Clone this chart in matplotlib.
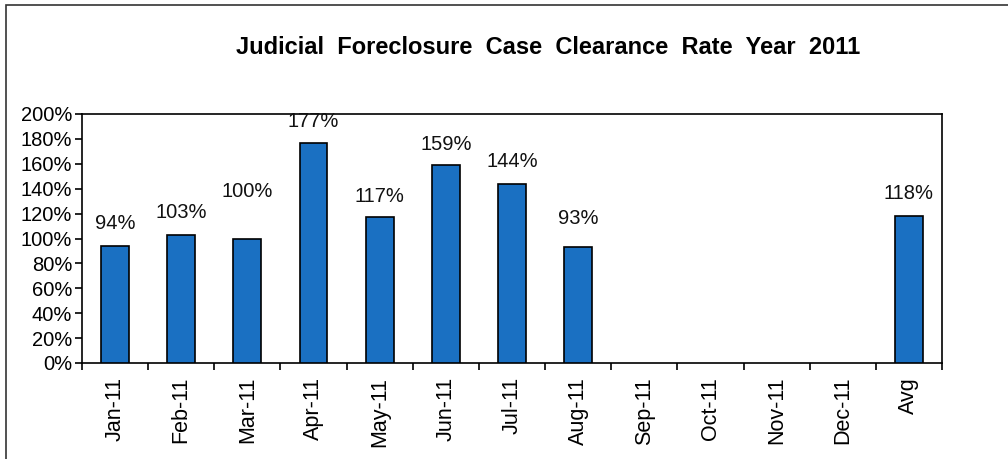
import matplotlib
matplotlib.use("Agg")
import matplotlib.pyplot as plt
from matplotlib.patches import Rectangle
from matplotlib.ticker import FuncFormatter, FixedLocator
import numpy as np

plt.rcParams['font.family'] = ['Liberation Sans', 'DejaVu Sans']

categories = ['Jan-11', 'Feb-11', 'Mar-11', 'Apr-11', 'May-11', 'Jun-11',
              'Jul-11', 'Aug-11', 'Sep-11', 'Oct-11', 'Nov-11', 'Dec-11', 'Avg']
rates = [94, 103, 100, 177, 117, 159, 144, 93, None, None, None, None, 118]
title = 'Judicial  Foreclosure  Case  Clearance  Rate  Year  2011'
y_ticks = [0, 20, 40, 60, 80, 100, 120, 140, 160, 180, 200]

# label offsets in points above the bar top (manually placed labels in the original)
label_offsets = [16, 16, 34, 15, 15, 15, 16, 21, 0, 0, 0, 0, 16]

fig = plt.figure(figsize=(10.08, 4.59), dpi=100)
fig.patch.set_facecolor('white')

# outer chart border (top and left visible in the scan)
fig.add_artist(Rectangle((6 / 1008, -0.05), 1.2, 1 - 5 / 459 + 0.05,
                         transform=fig.transFigure, fill=False,
                         edgecolor='#333333', linewidth=1.2))

ax = fig.add_axes([82 / 1008, 1 - 363 / 459, (942 - 82) / 1008, (363 - 114) / 459])
x = np.arange(len(categories))
for i, v in enumerate(rates):
    if v is None:
        continue
    ax.bar(x[i], v, width=0.42, color='#1a70c2', edgecolor='black', linewidth=1.2, zorder=3)
    ax.annotate(f'{v}%', (x[i], v), xytext=(0, label_offsets[i]), textcoords='offset points',
                ha='center', va='center', fontsize=14.5, color='#111111')

ax.set_xlim(-0.5, len(categories) - 0.5)
ax.set_ylim(0, 200)
ax.set_yticks(y_ticks)
ax.yaxis.set_major_formatter(FuncFormatter(lambda v, p: f'{int(v)}%'))
ax.set_xticks(x)
ax.set_xticklabels(categories, rotation=90, fontsize=15.5)
ax.xaxis.set_minor_locator(FixedLocator(np.arange(-0.5, len(categories), 1.0)))
ax.tick_params(axis='x', which='major', length=0, pad=10)
ax.tick_params(axis='x', which='minor', length=5, width=1.2, direction='out')
ax.tick_params(axis='y', length=5, width=1.2, direction='out', labelsize=14.5, pad=2)
for s in ax.spines.values():
    s.set_linewidth(1.2)
    s.set_color('black')

fig.text(548 / 1008, 1 - 47 / 459, title, ha='center', va='center',
         fontsize=17, fontweight='bold')

fig.savefig('out.png', dpi=100, facecolor='white')
